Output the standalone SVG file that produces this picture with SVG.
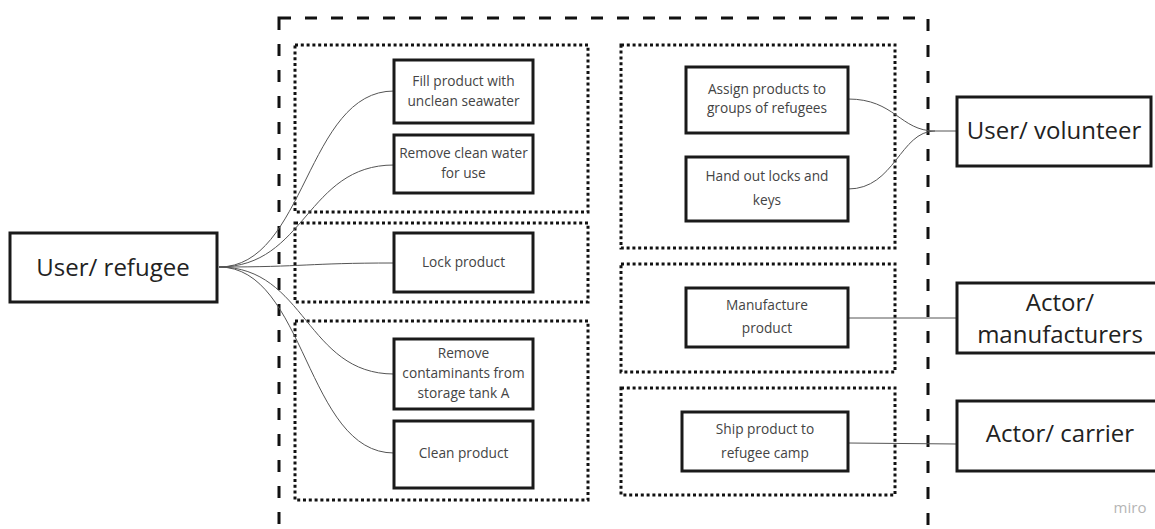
<svg xmlns="http://www.w3.org/2000/svg" width="1155" height="529" viewBox="0 0 1155 529">
<style>
.bg{fill:#fff}
.outer{fill:none;stroke:#111;stroke-width:3;stroke-dasharray:12 14}
.grp{fill:none;stroke:#111;stroke-width:3;stroke-dasharray:3 2.8}
.box{fill:#fff;stroke:#1a1a1a;stroke-width:3}
.t{font-family:"Open Sans","Liberation Sans",sans-serif;font-size:13.7px;fill:#444;text-anchor:middle}
.a{font-family:"Open Sans","Liberation Sans",sans-serif;font-size:24px;fill:#222;text-anchor:middle}
.c{fill:none;stroke:#555;stroke-width:1}
.w{font-family:"Open Sans","Liberation Sans",sans-serif;font-size:15px;fill:#b5b5b5;text-anchor:middle}
</style>
<rect class="bg" width="1155" height="529"/>
<g id="system-boundary">
<rect class="outer" x="279" y="18" width="649" height="540"/>
</g>
<g id="groups">
<rect id="grp-water" class="grp" x="295" y="45" width="293" height="167"/>
<rect id="grp-lock" class="grp" x="295" y="223" width="293" height="79"/>
<rect id="grp-clean" class="grp" x="295" y="321" width="293" height="179"/>
<rect id="grp-volunteer" class="grp" x="621" y="45" width="274" height="203"/>
<rect id="grp-manuf" class="grp" x="621" y="264" width="274" height="108"/>
<rect id="grp-ship" class="grp" x="621" y="388" width="274" height="107"/>
</g>
<g id="connectors">
<path class="c" d="M219,267 C306,267 306,91 394,91"/>
<path class="c" d="M219,267 C306,267 306,165 394,165"/>
<path class="c" d="M219,267 C306,267 306,263 394,263"/>
<path class="c" d="M219,267 C306,267 306,374 394,374"/>
<path class="c" d="M219,267 C306,267 306,453 394,453"/>
<path class="c" d="M848,99 C895,99 900,131 935,131 L957,131"/>
<path class="c" d="M848,189 C895,189 900,131 935,131"/>
<path class="c" d="M848,318 L957,318"/>
<path class="c" d="M848,443 L957,444"/>
</g>
<g id="user-refugee">
<rect class="box" x="10" y="233" width="207" height="69"/>
<text class="a" x="113" y="276">User/ refugee</text>
</g>
<g id="fill-product">
<rect class="box" x="394" y="60" width="139" height="63"/>
<text class="t" x="463.5" y="86">Fill product with</text>
<text class="t" x="463.5" y="106">unclean seawater</text>
</g>
<g id="remove-clean-water">
<rect class="box" x="394" y="135" width="139" height="58"/>
<text class="t" x="463.5" y="158">Remove clean water</text>
<text class="t" x="463.5" y="178">for use</text>
</g>
<g id="lock-product">
<rect class="box" x="394" y="233" width="139" height="59"/>
<text class="t" x="463.5" y="267">Lock product</text>
</g>
<g id="remove-contaminants">
<rect class="box" x="394" y="339" width="139" height="70"/>
<text class="t" x="463.5" y="358">Remove</text>
<text class="t" x="463.5" y="378">contaminants from</text>
<text class="t" x="463.5" y="398">storage tank A</text>
</g>
<g id="clean-product">
<rect class="box" x="394" y="421" width="139" height="67"/>
<text class="t" x="463.5" y="458">Clean product</text>
</g>
<g id="assign-products">
<rect class="box" x="686" y="67" width="162" height="66"/>
<text class="t" x="767" y="94">Assign products to</text>
<text class="t" x="767" y="113">groups of refugees</text>
</g>
<g id="hand-out">
<rect class="box" x="686" y="157" width="162" height="64"/>
<text class="t" x="767" y="181">Hand out locks and</text>
<text class="t" x="767" y="205">keys</text>
</g>
<g id="manufacture-product">
<rect class="box" x="686" y="288" width="162" height="59"/>
<text class="t" x="767" y="310">Manufacture</text>
<text class="t" x="767" y="333">product</text>
</g>
<g id="ship-product">
<rect class="box" x="682" y="412" width="166" height="59"/>
<text class="t" x="765" y="434">Ship product to</text>
<text class="t" x="765" y="458">refugee camp</text>
</g>
<g id="user-volunteer">
<rect class="box" x="957" y="97" width="194" height="69"/>
<text class="a" x="1054" y="139">User/ volunteer</text>
</g>
<g id="actor-manufacturers">
<rect class="box" x="957" y="283" width="210" height="70"/>
<text class="a" x="1060" y="311">Actor/</text>
<text class="a" x="1060" y="343">manufacturers</text>
</g>
<g id="actor-carrier">
<rect class="box" x="957" y="401" width="210" height="70"/>
<text class="a" x="1060" y="442">Actor/ carrier</text>
</g>
<text class="w" x="1130" y="513">miro</text>
</svg>
